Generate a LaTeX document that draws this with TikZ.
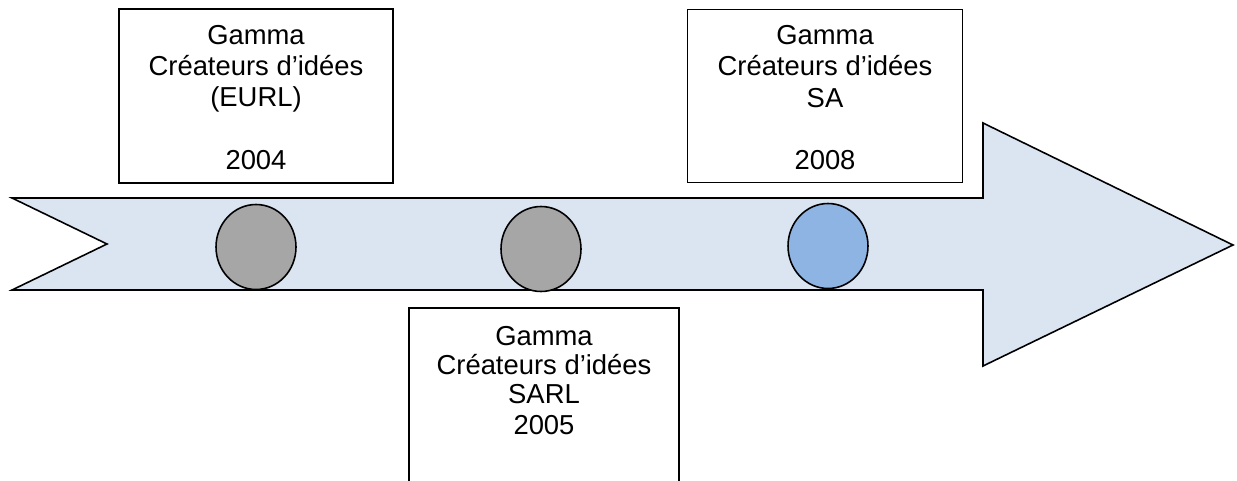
\documentclass[tikz,border=0pt]{standalone}
\usepackage{fontspec}
\setmainfont{Liberation Sans}
\usetikzlibrary{shapes.geometric,positioning}
\definecolor{shaft}{RGB}{219,229,241}
\definecolor{past}{RGB}{166,166,166}
\definecolor{now}{RGB}{142,180,227}

\begin{document}
\begin{tikzpicture}[x=0.02cm,y=-0.02cm,line width=0.9pt,
  box/.style={draw,rectangle,inner sep=0pt},
  txt/.style={align=center,inner sep=0pt,font=\fontsize{15.6}{17.8}\selectfont},
  dot/.style={draw,ellipse,inner sep=0pt,minimum width=1.6cm,minimum height=1.7cm}]
\useasboundingbox (0,0) rectangle (1237,480);
\clip (0,0) rectangle (1237,480);
\draw[fill=shaft] (12,198) -- (983,198) -- (983,123) -- (1233,245) -- (983,366)
  -- (983,290) -- (12,290) -- (107,244) -- cycle;
\node[dot,fill=past] (c1) at (256,247) {};
\node[dot,fill=past] (c2) at (541,249) {};
\node[dot,fill=now] (c3) at (828,246) {};
\node[box,minimum width=5.48cm,minimum height=3.48cm] (b1) at (256,96) {};
\node[box,minimum width=5.4cm,minimum height=4.44cm] (b2) at (544,419) {};
\node[box,minimum width=5.5cm,minimum height=3.46cm] (b3) at (825,96) {};
\node[txt,below=0.32cm of b1.north] (t1) {Gamma\\Créateurs d’idées\\(EURL)\\[17.8pt]2004};
\node[txt,below=0.36cm of b2.north,font=\fontsize{15.6}{16.6}\selectfont] (t2)
  {Gamma\\Créateurs d’idées\\SARL\\[1pt]2005};
\node[txt,below=0.32cm of b3.north] (t3) {Gamma\\Créateurs d’idées\\SA\\[17.8pt]2008};
\end{tikzpicture}
\end{document}
